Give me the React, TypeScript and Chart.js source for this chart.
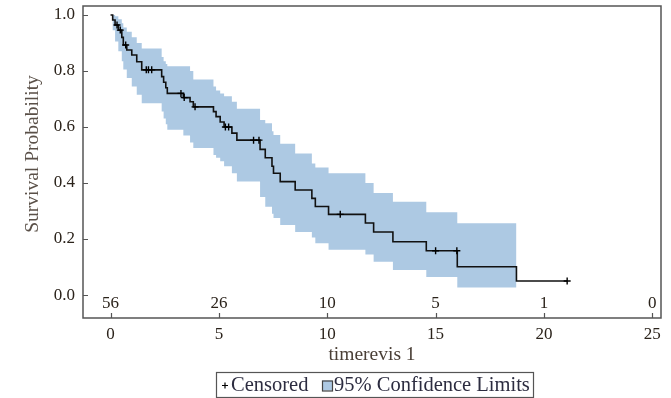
import React, { useEffect, useRef } from "react";
import { Chart, registerables } from "chart.js";

Chart.register(...registerables);

// Kaplan-Meier step times and survival after each step
const stepTimes = [0, 0.1, 0.21, 0.36, 0.52, 0.59, 0.75, 0.98, 1.21, 1.44, 2.36, 2.45, 2.55, 2.62, 3.36, 3.67, 3.82, 4.75, 4.87, 5.06, 5.24, 5.6, 5.83, 6.9, 7.14, 7.45, 7.52, 7.83, 8.52, 9.29, 9.45, 10.06, 11.76, 12.14, 13.03, 14.57, 16.0, 18.73];
const survival = [1, 0.982, 0.964, 0.946, 0.92, 0.893, 0.875, 0.857, 0.833, 0.804, 0.78, 0.76, 0.74, 0.72, 0.705, 0.69, 0.672, 0.655, 0.637, 0.618, 0.6, 0.578, 0.553, 0.52, 0.49, 0.46, 0.435, 0.405, 0.375, 0.345, 0.316, 0.288, 0.257, 0.225, 0.19, 0.158, 0.101, 0.05];
// 95% confidence limits at each step (band ends at bandEndTime)
const lowerCL = [1, 0.945, 0.905, 0.87, 0.835, 0.805, 0.775, 0.745, 0.715, 0.685, 0.655, 0.63, 0.61, 0.59, 0.57, 0.545, 0.525, 0.5, 0.49, 0.478, 0.46, 0.435, 0.405, 0.35, 0.315, 0.29, 0.275, 0.25, 0.225, 0.205, 0.185, 0.162, 0.145, 0.119, 0.089, 0.064, 0.027];
const upperCL = [1, 1, 0.995, 0.985, 0.97, 0.955, 0.94, 0.92, 0.9, 0.88, 0.85, 0.835, 0.825, 0.817, 0.817, 0.8, 0.77, 0.745, 0.73, 0.72, 0.71, 0.69, 0.665, 0.625, 0.613, 0.585, 0.571, 0.54, 0.505, 0.47, 0.455, 0.435, 0.4, 0.364, 0.333, 0.296, 0.256];
const bandEndTime = 18.73;
const lastTime = 21.07;

const censorTimes = [0.3, 0.45, 0.7, 1.65, 1.75, 1.9, 3.25, 3.4, 3.9, 5.3, 5.45, 6.6, 6.85, 10.6, 15.0, 15.98, 21.07];

const xTicks = [0, 5, 10, 15, 20, 25];
const yTicks = [0, 0.2, 0.4, 0.6, 0.8, 1.0];
const atRiskTimes = [0, 5, 10, 15, 20, 25];
const atRiskCounts = [56, 26, 10, 5, 1, 0];

const FONT = "'Liberation Serif', 'Times New Roman', serif";
const TEXT = "#2b231b";
const BAND = "#adc9e3";

function survAt(t: number): number {
  let v = survival[0];
  for (let i = 0; i < stepTimes.length; i++) if (stepTimes[i] <= t) v = survival[i];
  return v;
}

export default function App() {
  const ref = useRef<HTMLCanvasElement | null>(null);
  useEffect(() => {
    if (!ref.current) return;
    const kmData = stepTimes.map((t, i) => ({ x: t, y: survival[i] }));
    kmData.push({ x: lastTime, y: survival[survival.length - 1] });
    const loData = lowerCL.map((v, i) => ({ x: stepTimes[i], y: v }));
    loData.push({ x: bandEndTime, y: lowerCL[lowerCL.length - 1] });
    const upData = upperCL.map((v, i) => ({ x: stepTimes[i], y: v }));
    upData.push({ x: bandEndTime, y: upperCL[upperCL.length - 1] });
    const cData = censorTimes.map((t) => ({ x: t, y: survAt(t) }));

    const decor = {
      id: "decor",
      afterDatasetsDraw(chart: any) {
        const { ctx, chartArea: a, scales } = chart;
        const xs = scales.x, ys = scales.y;
        ctx.save();
        // frame
        ctx.strokeStyle = "#555";
        ctx.lineWidth = 1.5;
        ctx.strokeRect(a.left, a.top, a.right - a.left, a.bottom - a.top);
        // inner tick marks
        ctx.lineWidth = 1.2;
        ctx.beginPath();
        xTicks.forEach((v) => {
          const px = Math.round(xs.getPixelForValue(v)) + 0.5;
          ctx.moveTo(px, a.bottom);
          ctx.lineTo(px, a.bottom - 5);
        });
        yTicks.forEach((v) => {
          const py = Math.round(ys.getPixelForValue(v)) + 0.5;
          ctx.moveTo(a.left, py);
          ctx.lineTo(a.left + 5, py);
        });
        ctx.stroke();
        // at-risk counts
        ctx.fillStyle = TEXT;
        ctx.font = `17px ${FONT}`;
        ctx.textAlign = "center";
        ctx.textBaseline = "middle";
        atRiskTimes.forEach((t, i) => {
          ctx.fillText(String(atRiskCounts[i]), xs.getPixelForValue(t), a.bottom - 14);
        });
        // y-axis title
        ctx.save();
        ctx.translate(33, 154);
        ctx.rotate(-Math.PI / 2);
        ctx.fillStyle = "#5a5048";
        ctx.font = `19.5px ${FONT}`;
        ctx.fillText("Survival Probability", 0, 0);
        ctx.restore();
        ctx.restore();
      },
      afterDraw(chart: any) {
        const { ctx } = chart;
        ctx.save();
        const bx = 216, by = 372, bw = 317, bh = 25;
        ctx.strokeStyle = "#555";
        ctx.lineWidth = 1.2;
        ctx.strokeRect(bx + 0.5, by + 0.5, bw, bh);
        const cy = by + bh / 2 + 1;
        // censored marker
        ctx.strokeStyle = "#000";
        ctx.lineWidth = 1.2;
        ctx.beginPath();
        ctx.moveTo(222, cy); ctx.lineTo(228, cy);
        ctx.moveTo(225, cy - 3); ctx.lineTo(225, cy + 3);
        ctx.stroke();
        ctx.font = `20.5px ${FONT}`;
        ctx.fillStyle = "#2c2c40";
        ctx.textAlign = "left";
        ctx.textBaseline = "middle";
        ctx.fillText("Censored", 231, cy);
        // band marker
        ctx.fillStyle = BAND;
        ctx.fillRect(322, cy - 5, 10, 10);
        ctx.strokeStyle = "#444";
        ctx.lineWidth = 1.2;
        ctx.strokeRect(322.5, cy - 4.5, 10, 10);
        ctx.fillStyle = "#2c2c40";
        ctx.fillText("95% Confidence Limits", 334, cy);
        ctx.restore();
      },
    };

    const chart = new Chart(ref.current, {
      type: "line",
      data: {
        datasets: [
          { label: "lower", order: 3, data: loData, stepped: true, borderColor: "transparent", borderWidth: 0, pointRadius: 0, fill: false },
          { label: "upper", order: 2, data: upData, stepped: true, borderColor: "transparent", borderWidth: 0, pointRadius: 0, fill: "-1", backgroundColor: BAND },
          { label: "km", order: 1, data: kmData, stepped: true, borderColor: "#111", borderWidth: 1.6, pointRadius: 0, fill: false },
          { label: "Censored", order: 0, data: cData, showLine: false, pointStyle: "cross", pointRadius: 3.5, borderColor: "#000", borderWidth: 1.4, backgroundColor: "#000" },
        ],
      },
      options: {
        animation: false,
        responsive: true,
        maintainAspectRatio: false,
        layout: { padding: { top: 6, right: 10, bottom: 0, left: 0 } },
        plugins: { legend: { display: false }, tooltip: { enabled: false } },
        scales: {
          x: {
            type: "linear",
            min: -1.27,
            max: 25.4,
            grid: { display: false, drawTicks: false },
            border: { display: false },
            afterBuildTicks: (s: any) => { s.ticks = xTicks.map((v) => ({ value: v })); },
            afterFit: (s: any) => { s.height = 80; s.paddingLeft = 0; s.paddingRight = 0; },
            ticks: { padding: 6, color: TEXT, font: { family: FONT, size: 17 }, maxRotation: 0, callback: (v: any) => String(v) },
            title: { display: true, text: "timerevis 1", color: "#4a3f36", font: { family: FONT, size: 19.5 }, padding: { top: 0, bottom: 31 } },
          },
          y: {
            type: "linear",
            min: -0.082,
            max: 1.032,
            grid: { display: false, drawTicks: false },
            border: { display: false },
            afterBuildTicks: (s: any) => { s.ticks = yTicks.map((v) => ({ value: v })); },
            afterFit: (s: any) => { s.width = 83; s.paddingTop = 0; s.paddingBottom = 0; },
            ticks: { padding: 8, color: TEXT, font: { family: FONT, size: 17 }, callback: (v: any) => Number(v).toFixed(1) },
          },
        },
      },
      plugins: [decor],
    } as any);
    return () => chart.destroy();
  }, []);

  return (
    <div style={{ position: "fixed", left: 0, top: 0, width: 671, height: 398, background: "#fff" }}>
      <canvas ref={ref} />
    </div>
  );
}
